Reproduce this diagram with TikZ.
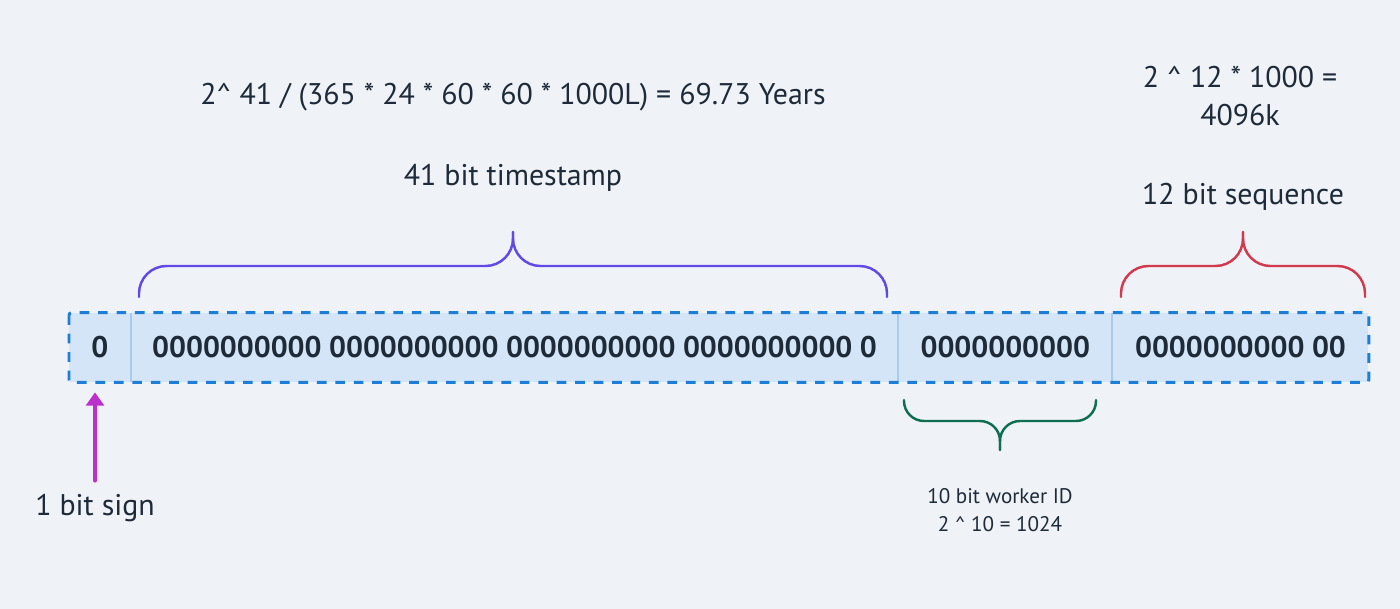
\documentclass[tikz,border=0pt]{standalone}
\usepackage{fontspec}
\setmainfont{PT Sans}
\usetikzlibrary{positioning}
\usetikzlibrary{arrows.meta}

\definecolor{bgcol}{HTML}{EFF3F7}
\definecolor{inkcol}{HTML}{1E2A38}
\definecolor{cellfill}{HTML}{D3E5F6}
\definecolor{celldash}{HTML}{1C7ED6}
\definecolor{cellsep}{HTML}{A8CBEC}
\definecolor{tscol}{HTML}{6149E6}
\definecolor{seqcol}{HTML}{D13A4E}
\definecolor{wkcol}{HTML}{0F6E52}
\definecolor{signcol}{HTML}{BC2FCB}

\tikzset{
	cell/.style={fill=cellfill, inner sep=0pt, minimum height=13.8mm, anchor=west,
		text=inkcol, font=\fontsize{17}{20}\selectfont\bfseries},
	bigtext/.style={text=inkcol, font=\fontsize{17}{21.6}\selectfont, align=center},
	smalltext/.style={text=inkcol, font=\fontsize{12}{16}\selectfont, align=center},
	brace/.style={line width=1.4pt, line cap=round, rounded corners=5.5mm},
}

\begin{document}
\begin{tikzpicture}[x=0.2mm,y=-0.2mm]
	% background
	\fill[bgcol] (0,0) rectangle (1400,609);

	% the four fields
	\node[cell, minimum width=12.2mm] (sign) at (69,347.5) {0};
	\node[cell, minimum width=153.4mm, right=0pt of sign] (stamp)
		{0000000000 0000000000 0000000000 0000000000 0};
	\node[cell, minimum width=42.6mm, right=0pt of stamp] (worker) {0000000000};
	\node[cell, minimum width=51.2mm, right=0pt of worker] (seq) {0000000000 00};

	\foreach \f in {sign,stamp,worker}
		\draw[cellsep, line width=1.2pt] (\f.north east) -- (\f.south east);

	\draw[celldash, line width=1.7pt, dash pattern=on 5.5pt off 5pt, rounded corners=1.5pt]
		(sign.north west) rectangle (seq.south east);

	% timestamp brace
	\draw[brace, tscol] (139,297) -- (139,266) -- (513,266) -- (513,232);
	\draw[brace, tscol] (513,232) -- (513,266) -- (887,266) -- (887,297);

	% sequence brace
	\draw[brace, seqcol] (1121,297) -- (1121,266) -- (1243,266) -- (1243,232);
	\draw[brace, seqcol] (1243,232) -- (1243,266) -- (1365,266) -- (1365,297);

	% worker brace
	\draw[brace, wkcol, rounded corners=4mm] (904,400) -- (904,421) -- (1000,421) -- (1000,450);
	\draw[brace, wkcol, rounded corners=4mm] (1000,450) -- (1000,421) -- (1096,421) -- (1096,400);

	% labels
	\node[bigtext] (tsyears) at (513,97) {2\^{} 41 / (365 * 24 * 60 * 60 * 1000L) = 69.73 Years};
	\node[bigtext] (tslabel) at (513,178) {41 bit timestamp};
	\node[bigtext] (seqcount) at (1240,96) {2 \^{} 12 * 1000 =\\4096k};
	\node[bigtext] (seqlabel) at (1243,197) {12 bit sequence};
	\node[smalltext] (wklabel) at (1000,510) {10 bit worker ID\\2 \^{} 10 = 1024};
	\node[bigtext] (signlabel) at (95,508) {1 bit sign};

	\draw[signcol, line width=2.4pt, line cap=round, -{Triangle[length=7.5pt,width=10pt]}]
		([yshift=1.5mm]signlabel.north) -- ([yshift=-2mm]signlabel.north |- sign.south);
\end{tikzpicture}
\end{document}
